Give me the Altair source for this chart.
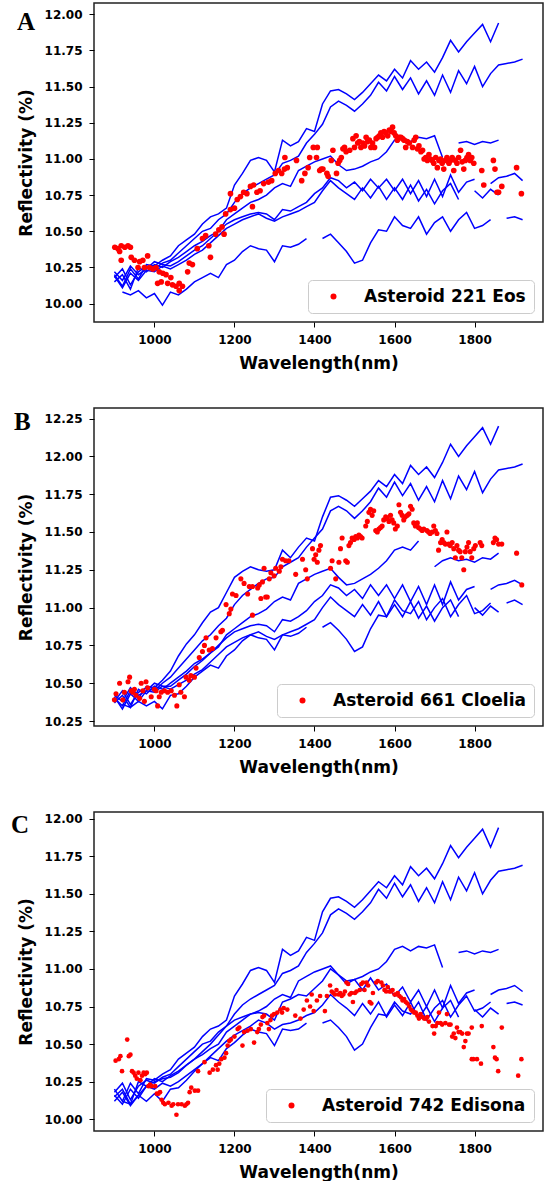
import altair as alt
import pandas as pd

N = None

# Wavelength grid (nm) of the reference spectra
WAVELENGTH = [900, 920, 940, 960, 980,
              1000, 1020, 1040, 1060, 1080,
              1100, 1120, 1140, 1160, 1180,
              1200, 1220, 1240, 1260, 1280,
              1300, 1320, 1340, 1360, 1380,
              1400, 1420, 1440, 1460, 1480,
              1500, 1520, 1540, 1560, 1580,
              1600, 1620, 1640, 1660, 1680,
              1700, 1720, 1740, 1760, 1780,
              1800, 1820, 1840, 1860, 1880,
              1900, 1920]

X_TICKS = [1000, 1200, 1400, 1600, 1800]

# ---------------- Panel A : reference spectra ----------------
A_L1 = [10.20, 10.12, 10.24, 10.17, 10.27,
        10.26, 10.30, 10.33, 10.40, 10.44,
        10.48, 10.55, 10.60, 10.62, 10.66,
        10.82, 10.90, 10.99, 11.01, 10.99,
        10.91, 11.13, 11.09, 11.12, 11.21,
        11.19, 11.38, 11.47, 11.48, 11.45,
        11.41, 11.46, 11.52, 11.58, 11.54,
        11.62, 11.56, 11.68, 11.62, 11.67,
        11.60, 11.70, 11.82, 11.74, 11.81,
        11.87, 11.93, 11.81, 11.94, N,
        N, N]
A_L2 = [10.18, 10.24, 10.13, 10.22, 10.26,
        10.24, 10.28, 10.30, 10.35, 10.40,
        10.45, 10.50, 10.52, 10.58, 10.62,
        10.70, 10.76, 10.80, 10.83, 10.86,
        10.89, 10.97, 10.99, 11.02, 11.11,
        11.17, 11.24, 11.36, 11.40, 11.37,
        11.33, 11.38, 11.44, 11.53, 11.47,
        11.57, 11.48, 11.56, 11.45, 11.54,
        11.44, 11.58, 11.46, 11.61, 11.52,
        11.64, 11.50, 11.59, 11.65, 11.66,
        11.67, 11.69]
A_L3 = [10.15, 10.20, 10.10, 10.25, 10.22,
        10.27, 10.25, 10.29, 10.32, 10.36,
        10.40, 10.43, 10.47, 10.50, 10.58,
        10.62, 10.66, 10.70, 10.72, 10.75,
        10.80, 10.83, 10.81, 10.92, 10.95,
        10.98, 11.00, 11.02, 10.96, 10.92,
        10.93, 10.95, 10.98, 11.00, 11.05,
        11.13, 11.15, 11.12, 11.15, 11.14,
        11.16, 11.01, N, 11.11, 11.12,
        11.10, 11.12, 11.11, 11.13, N,
        N, N]
A_L4 = [10.22, 10.16, 10.26, 10.20, 10.24,
        10.29, 10.27, 10.26, 10.29, 10.33,
        10.37, 10.40, 10.45, 10.50, 10.55,
        10.58, 10.60, 10.62, 10.63, 10.62,
        10.58, 10.65, 10.64, 10.67, 10.70,
        10.76, 10.80, 10.87, 10.85, 10.80,
        10.84, 10.78, 10.86, 10.80, 10.86,
        10.78, 10.86, 10.76, 10.85, 10.74,
        10.86, 10.74, 10.89, 10.77, 10.84,
        10.86, N, 10.83, 10.87, 10.88,
        10.90, 10.85]
A_L5 = [10.19, 10.11, 10.21, 10.16, 10.23,
        10.22, 10.26, 10.24, 10.27, 10.30,
        10.34, 10.37, 10.42, 10.47, 10.52,
        10.55, 10.58, 10.60, 10.62, 10.59,
        10.57, 10.60, 10.62, 10.64, 10.67,
        10.70, 10.78, 10.85, 10.80, 10.76,
        10.72, 10.80, 10.73, 10.81, 10.72,
        10.80, 10.72, 10.82, 10.71, 10.79,
        10.69, 10.78, 10.83, 10.72, N,
        10.78, 10.73, 10.79, 10.75, N,
        N, N]
A_L6 = [N, 10.08, 10.06, 10.09, 10.04,
        10.07, 9.99, 10.08, 10.06, 10.10,
        10.15, 10.18, 10.21, 10.18, 10.27,
        10.30, 10.36, 10.40, 10.38, 10.37,
        10.29, 10.40, 10.39, 10.41, 10.45,
        N, 10.45, 10.48, 10.42, 10.36,
        10.28, 10.30, 10.42, 10.51, 10.50,
        10.60, 10.54, 10.52, 10.60, 10.48,
        10.56, 10.60, 10.50, 10.58, 10.63,
        10.52, 10.54, 10.58, N, 10.59,
        10.60, 10.58]

# ---------------- Panel B : reference spectra ----------------
B_L1 = [10.40, 10.35, 10.45, 10.40, 10.48,
        10.47, 10.52, 10.58, 10.68, 10.76,
        10.82, 10.90, 10.97, 11.00, 11.10,
        11.20, 11.24, 11.27, 11.25, 11.24,
        11.25, 11.38, 11.33, 11.40, 11.46,
        11.44, 11.60, 11.73, 11.74, 11.71,
        11.67, 11.72, 11.77, 11.84, 11.80,
        11.88, 11.82, 11.94, 11.88, 11.93,
        11.86, 11.96, 12.08, 12.00, 12.07,
        12.13, 12.19, 12.08, 12.20, N,
        N, N]
B_L2 = [10.38, 10.45, 10.36, 10.44, 10.47,
        10.45, 10.50, 10.54, 10.60, 10.66,
        10.72, 10.78, 10.82, 10.88, 10.93,
        11.02, 11.08, 11.12, 11.16, 11.19,
        11.20, 11.27, 11.30, 11.33, 11.40,
        11.46, 11.52, 11.64, 11.67, 11.64,
        11.59, 11.64, 11.70, 11.79, 11.73,
        11.83, 11.74, 11.82, 11.71, 11.80,
        11.70, 11.84, 11.72, 11.87, 11.78,
        11.90, 11.76, 11.85, 11.91, 11.92,
        11.93, 11.95]
B_L3 = [10.37, 10.42, 10.34, 10.46, 10.43,
        10.48, 10.46, 10.50, 10.54, 10.58,
        10.63, 10.66, 10.70, 10.74, 10.82,
        10.86, 10.90, 10.94, 10.96, 10.99,
        11.04, 11.07, 11.05, 11.16, 11.19,
        11.22, 11.24, 11.26, 11.20, 11.15,
        11.16, 11.19, 11.22, 11.26, 11.31,
        11.38, 11.40, 11.38, 11.44, N,
        11.27, 11.31, 11.33, 11.31, 11.32,
        11.30, 11.33, 11.32, 11.36, N,
        N, N]
B_L4 = [10.42, 10.38, 10.47, 10.42, 10.45,
        10.50, 10.48, 10.48, 10.52, 10.56,
        10.61, 10.65, 10.70, 10.75, 10.80,
        10.84, 10.86, 10.88, 10.89, 10.88,
        10.84, 10.92, 10.91, 10.94, 10.98,
        11.04, 11.08, 11.15, 11.13, 11.08,
        11.12, 11.06, 11.15, 11.08, 11.15,
        11.06, 11.15, 11.04, 11.14, 11.02,
        11.15, 11.02, 11.17, 11.05, 11.12,
        11.14, N, 11.12, 11.15, 11.16,
        11.18, 11.15]
B_L5 = [10.41, 10.33, 10.43, 10.38, 10.45,
        10.44, 10.48, 10.46, 10.49, 10.52,
        10.56, 10.59, 10.64, 10.69, 10.74,
        10.77, 10.80, 10.82, 10.84, 10.81,
        10.79, 10.82, 10.84, 10.86, 10.89,
        10.92, 11.00, 11.07, 11.02, 10.98,
        10.94, 11.02, 10.95, 11.04, 10.94,
        11.02, 10.94, 11.04, 10.93, 11.01,
        10.91, 11.00, 11.05, 10.94, N,
        11.00, 10.95, 11.01, 10.97, N,
        N, N]
B_L6 = [N, 10.36, 10.34, 10.38, 10.35,
        10.38, 10.33, 10.42, 10.43, 10.48,
        10.54, 10.58, 10.62, 10.60, 10.68,
        10.72, 10.78, 10.82, 10.80, 10.79,
        10.72, 10.82, 10.81, 10.83, 10.87,
        N, 10.87, 10.90, 10.85, 10.79,
        10.71, 10.74, 10.86, 10.95, 10.94,
        11.05, 10.98, 10.96, 11.04, 10.92,
        11.00, 11.06, 10.94, 11.02, 11.08,
        10.96, 10.98, 11.03, N, 11.03,
        11.05, 11.02]

# ---------------- Panel C : reference spectra ----------------
C_L1 = A_L1
C_L2 = A_L2
C_L3 = A_L3
C_L4 = [10.16, 10.10, 10.20, 10.14, 10.22,
        10.25, 10.27, 10.28, 10.31, 10.36,
        10.40, 10.45, 10.50, 10.56, 10.62,
        10.66, 10.68, 10.70, 10.71, 10.70,
        10.66, 10.78, 10.80, 10.83, 10.82,
        10.87, 10.92, 11.00, 10.96, 10.90,
        10.93, 10.86, 10.94, 10.86, 10.90,
        10.82, 10.88, 10.78, 10.86, 10.75,
        10.86, 10.74, 10.89, 10.77, 10.84,
        10.86, N, 10.83, 10.86, 10.87,
        10.89, 10.85]
C_L5 = [10.12, 10.18, 10.09, 10.16, 10.22,
        10.20, 10.24, 10.22, 10.25, 10.29,
        10.33, 10.37, 10.42, 10.47, 10.52,
        10.56, 10.59, 10.62, 10.66, 10.64,
        10.60, 10.63, 10.64, 10.66, 10.69,
        10.71, 10.76, 10.83, 10.78, 10.74,
        10.69, 10.77, 10.70, 10.78, 10.68,
        10.76, 10.69, 10.78, 10.67, 10.75,
        10.65, 10.74, 10.79, 10.68, N,
        10.73, 10.68, 10.74, 10.70, N,
        N, N]
C_L6 = [N, 10.12, 10.10, 10.16, 10.12,
        10.17, 10.12, 10.20, 10.21, 10.26,
        10.32, 10.37, 10.41, 10.39, 10.47,
        10.51, 10.56, 10.60, 10.58, 10.57,
        10.49, 10.60, 10.59, 10.60, 10.64,
        N, 10.64, 10.66, 10.61, 10.55,
        10.46, 10.50, 10.61, 10.70, 10.69,
        10.78, 10.72, 10.70, 10.78, 10.66,
        10.74, 10.79, 10.68, 10.76, 10.82,
        10.72, 10.74, 10.78, N, 10.77,
        10.78, 10.76]

# ---------------- Asteroid spectra (red points) ----------------
EOS_WL = [901, 909, 917, 926, 934, 940, 913, 917, 942, 950, 963, 971, 983, 959, 975,
          988, 996, 1004, 1012, 1021, 1029, 1041, 1008, 1017, 1033, 1045, 1054, 1062, 1070, 1062,
          1083, 1087, 1095, 1107, 1120, 1128, 1136, 1140, 1153, 1161, 1169, 1174, 1178, 1190, 1200,
          1190, 1207, 1215, 1223, 1231, 1240, 1248, 1245, 1256, 1264, 1273, 1285, 1293, 1302, 1310,
          1318, 1325, 1332, 1326, 1355, 1368, 1376, 1384, 1388, 1397, 1407, 1405, 1413, 1417, 1421,
          1431, 1434, 1442, 1446, 1455, 1459, 1463, 1467, 1471, 1475, 1479, 1488, 1496, 1500, 1504,
          1508, 1512, 1516, 1521, 1525, 1529, 1533, 1537, 1541, 1545, 1550, 1554, 1558, 1562, 1566,
          1570, 1574, 1578, 1583, 1587, 1591, 1595, 1599, 1603, 1607, 1612, 1616, 1620, 1624, 1628,
          1632, 1637, 1645, 1649, 1653, 1657, 1661, 1666, 1670, 1674, 1678, 1682, 1686, 1690, 1694,
          1698, 1703, 1707, 1711, 1715, 1719, 1723, 1727, 1731, 1736, 1740, 1744, 1748, 1752, 1756,
          1760, 1765, 1769, 1773, 1777, 1781, 1785, 1789, 1793, 1798, 1818, 1823, 1847, 1851, 1856,
          1860, 1868, 1905, 1917]
EOS_R = [10.39, 10.38, 10.40, 10.39, 10.40, 10.39, 10.36, 10.30, 10.32, 10.30, 10.29, 10.30, 10.33, 10.25, 10.25,
         10.25, 10.24, 10.25, 10.22, 10.21, 10.20, 10.18, 10.14, 10.15, 10.14, 10.13, 10.12, 10.14, 10.12, 10.09,
         10.22, 10.28, 10.27, 10.38, 10.45, 10.47, 10.40, 10.32, 10.48, 10.51, 10.53, 10.48, 10.62, 10.65, 10.66,
         10.76, 10.72, 10.74, 10.77, 10.76, 10.81, 10.82, 10.67, 10.77, 10.78, 10.83, 10.84, 10.85, 10.90, 10.92,
         10.90, 10.93, 10.94, 11.01, 10.99, 10.85, 10.90, 10.94, 11.01, 11.08, 11.08, 11.01, 10.92, 10.93, 10.93,
         10.90, 10.88, 10.99, 11.06, 10.90, 10.97, 10.99, 11.01, 11.07, 11.08, 11.05, 11.06, 11.14, 11.08, 11.16,
         11.11, 11.12, 11.08, 11.11, 11.09, 11.15, 11.12, 11.13, 11.08, 11.11, 11.08, 11.14, 11.15, 11.16, 11.18,
         11.15, 11.19, 11.18, 11.16, 11.20, 11.19, 11.22, 11.18, 11.16, 11.13, 11.15, 11.15, 11.14, 11.13, 11.08,
         11.12, 11.11, 11.08, 11.13, 11.15, 11.07, 11.09, 11.05, 11.06, 11.00, 11.01, 10.99, 11.03, 11.00, 10.99,
         10.97, 11.01, 10.94, 10.99, 11.00, 10.97, 10.93, 10.99, 11.01, 10.97, 10.99, 11.01, 10.92, 10.99, 10.97,
         11.01, 11.06, 10.98, 10.93, 10.99, 11.01, 11.03, 10.99, 11.01, 10.97, 10.92, 10.82, 10.99, 10.93, 10.77,
         10.77, 10.81, 10.94, 10.76]

CLOELIA_WL = [900, 904, 913, 921, 925, 934, 938, 942, 946, 950, 954, 963, 967, 971, 975,
              979, 983, 992, 1000, 1004, 1008, 1012, 1017, 1025, 1033, 1042, 1050, 1056, 1062, 1066,
              1075, 1079, 1087, 1091, 1100, 1104, 1112, 1120, 1125, 1129, 1137, 1145, 1154, 1166, 1170,
              1179, 1187, 1191, 1195, 1204, 1216, 1224, 1233, 1237, 1245, 1258, 1262, 1266, 1270, 1278,
              1282, 1245, 1274, 1287, 1291, 1299, 1303, 1312, 1316, 1320, 1328, 1336, 1353, 1370, 1378,
              1382, 1395, 1399, 1403, 1407, 1411, 1415, 1440, 1444, 1453, 1461, 1465, 1469, 1478, 1482,
              1486, 1490, 1494, 1499, 1503, 1507, 1511, 1515, 1519, 1528, 1532, 1536, 1540, 1544, 1548,
              1553, 1557, 1561, 1565, 1569, 1573, 1578, 1582, 1586, 1590, 1594, 1598, 1602, 1607, 1611,
              1615, 1619, 1623, 1627, 1632, 1636, 1640, 1644, 1648, 1652, 1657, 1660, 1665, 1669, 1673,
              1681, 1685, 1689, 1694, 1698, 1702, 1706, 1710, 1715, 1719, 1723, 1727, 1731, 1735, 1739,
              1744, 1748, 1752, 1756, 1760, 1764, 1768, 1773, 1777, 1781, 1785, 1789, 1793, 1798, 1802,
              1814, 1818, 1847, 1851, 1855, 1860, 1868, 1905, 1918]
CLOELIA_R = [10.39, 10.43, 10.50, 10.39, 10.44, 10.51, 10.54, 10.45, 10.44, 10.46, 10.42, 10.40, 10.50, 10.45, 10.38,
             10.51, 10.47, 10.41, 10.46, 10.45, 10.35, 10.41, 10.44, 10.45, 10.44, 10.45, 10.42, 10.35, 10.49, 10.44,
             10.41, 10.54, 10.52, 10.55, 10.54, 10.60, 10.67, 10.71, 10.75, 10.80, 10.72, 10.73, 10.80, 10.84, 10.85,
             11.02, 10.96, 10.99, 11.09, 11.08, 11.19, 11.16, 11.09, 11.14, 11.14, 11.13, 11.15, 11.06, 11.17, 11.07,
             11.07, 10.95, 11.26, 11.19, 11.23, 11.21, 11.26, 11.24, 11.27, 11.32, 11.31, 11.31, 11.22, 11.32, 11.25,
             11.19, 11.39, 11.32, 11.35, 11.30, 11.38, 11.41, 11.26, 11.31, 11.19, 11.30, 11.39, 11.46, 11.31, 11.30,
             11.41, 11.43, 11.46, 11.45, 11.47, 11.46, 11.48, 11.47, 11.46, 11.54, 11.57, 11.63, 11.65, 11.61, 11.64,
             11.51, 11.50, 11.52, 11.53, 11.54, 11.58, 11.60, 11.59, 11.57, 11.61, 11.58, 11.56, 11.52, 11.54, 11.68,
             11.63, 11.61, 11.58, 11.60, 11.61, 11.62, 11.67, 11.65, 11.56, 11.54, 11.56, 11.53, 11.52, 11.51, 11.52,
             11.51, 11.50, 11.49, 11.50, 11.54, 11.51, 11.49, 11.38, 11.43, 11.45, 11.43, 11.42, 11.50, 11.42, 11.41,
             11.43, 11.39, 11.33, 11.41, 11.38, 11.37, 11.33, 11.25, 11.37, 11.40, 11.43, 11.37, 11.33, 11.39, 11.41,
             11.43, 11.41, 11.43, 11.46, 11.45, 11.42, 11.42, 11.36, 11.15]

EDISONA_WL = [903, 911, 915, 919, 932, 936, 940, 944, 948, 952, 956, 960, 965, 969, 973,
              977, 981, 985, 989, 993, 1002, 1006, 1010, 1014, 1018, 1022, 1026, 1035, 1043, 1047,
              1055, 1059, 1068, 1076, 1080, 1084, 1088, 1092, 1101, 1109, 1109, 1125, 1138, 1146, 1154,
              1158, 1162, 1167, 1175, 1179, 1183, 1187, 1191, 1200, 1208, 1212, 1220, 1224, 1233, 1241,
              1249, 1257, 1261, 1266, 1270, 1274, 1282, 1286, 1290, 1294, 1299, 1307, 1315, 1319, 1323,
              1332, 1352, 1365, 1373, 1381, 1389, 1393, 1398, 1406, 1414, 1426, 1431, 1439, 1443, 1447,
              1451, 1455, 1460, 1464, 1468, 1472, 1476, 1480, 1484, 1488, 1492, 1496, 1501, 1505, 1513,
              1517, 1521, 1525, 1530, 1534, 1538, 1542, 1546, 1554, 1558, 1567, 1571, 1575, 1579, 1583,
              1587, 1591, 1595, 1600, 1604, 1608, 1612, 1616, 1620, 1624, 1628, 1632, 1637, 1641, 1645,
              1649, 1653, 1657, 1661, 1665, 1670, 1674, 1678, 1682, 1686, 1695, 1699, 1703, 1707, 1711,
              1715, 1719, 1727, 1731, 1736, 1740, 1744, 1748, 1752, 1756, 1760, 1764, 1769, 1773, 1777,
              1781, 1785, 1793, 1793, 1797, 1806, 1816, 1818, 1847, 1851, 1855, 1859, 1868, 1909, 1917]
EDISONA_R = [10.39, 10.40, 10.42, 10.32, 10.53, 10.42, 10.43, 10.32, 10.31, 10.29, 10.27, 10.31, 10.26, 10.29, 10.31,
             10.30, 10.31, 10.22, 10.23, 10.22, 10.22, 10.17, 10.17, 10.18, 10.13, 10.11, 10.10, 10.11, 10.09, 10.10,
             10.03, 10.10, 10.10, 10.09, 10.10, 10.11, 10.18, 10.21, 10.19, 10.19, 10.32, 10.38, 10.31, 10.33, 10.36,
             10.33, 10.37, 10.40, 10.41, 10.44, 10.49, 10.52, 10.53, 10.55, 10.60, 10.61, 10.49, 10.58, 10.59, 10.60,
             10.51, 10.58, 10.60, 10.63, 10.68, 10.69, 10.64, 10.60, 10.66, 10.69, 10.70, 10.71, 10.73, 10.71, 10.74,
             10.73, 10.69, 10.67, 10.73, 10.79, 10.75, 10.83, 10.72, 10.79, 10.82, 10.72, 10.82, 10.89, 10.85, 10.84,
             10.83, 10.86, 10.83, 10.84, 10.82, 10.83, 10.85, 10.91, 10.90, 10.83, 10.84, 10.78, 10.84, 10.85, 10.86,
             10.90, 10.91, 10.86, 10.91, 10.89, 10.78, 10.77, 10.84, 10.91, 10.92, 10.91, 10.89, 10.86, 10.85, 10.88,
             10.85, 10.85, 10.86, 10.83, 10.83, 10.84, 10.82, 10.81, 10.79, 10.80, 10.78, 10.77, 10.75, 10.73, 10.72,
             10.71, 10.71, 10.69, 10.67, 10.70, 10.68, 10.67, 10.67, 10.68, 10.65, 10.62, 10.57, 10.62, 10.64, 10.71,
             10.64, 10.63, 10.64, 10.70, 10.63, 10.63, 10.55, 10.57, 10.54, 10.61, 10.58, 10.58, 10.57, 10.48, 10.52,
             10.57, 10.57, 10.61, 10.40, 10.40, 10.40, 10.37, 10.62, 10.48, 10.41, 10.40, 10.32, 10.61, 10.29, 10.40]


def line_frame(lines):
    """Long table of spectra; a None in a series starts a new drawn segment."""
    rows = []
    for name, values in lines.items():
        seg = 0
        for wl, v in zip(WAVELENGTH, values):
            if v is None:
                seg += 1
                continue
            rows.append({"wl": wl, "refl": v, "seg": f"{name}_{seg}"})
    return pd.DataFrame(rows)


def panel(lines, pts_wl, pts_r, label, letter, ydomain, yticks, height, letter_xy, dot_size):
    ldf = line_frame(lines)
    pdf = pd.DataFrame({"wl": pts_wl, "refl": pts_r, "series": label})
    x_axis = alt.Axis(values=X_TICKS, format="d", title="Wavelength(nm)",
                      titleY=46, titleBaseline="alphabetic", labelOverlap=False)
    y_axis = alt.Axis(values=yticks, format=".2f", title="Reflectivity (%)",
                      titleX=-68, titleY=height / 2, titleAlign="center",
                      titleBaseline="middle", labelOverlap=False, tickCount=len(yticks))
    x_scale = alt.Scale(domain=[849, 1971], nice=False, zero=False)
    y_scale = alt.Scale(domain=ydomain, nice=False, zero=False)
    x = alt.X("wl:Q", scale=x_scale, axis=x_axis)
    y = alt.Y("refl:Q", scale=y_scale, axis=y_axis)
    lines_layer = alt.Chart(ldf).mark_line(color="#0000ff", strokeWidth=1.5).encode(
        x=x, y=y, detail="seg:N", order="wl:Q")
    pts_layer = alt.Chart(pdf).mark_circle(size=dot_size, opacity=1).encode(
        x=x, y=y,
        color=alt.Color("series:N",
                        scale=alt.Scale(domain=[label], range=["#ff0000"]),
                        legend=alt.Legend(title=None, orient="bottom-right", offset=9,
                                          padding=8, strokeColor="#cccccc", cornerRadius=4,
                                          fillColor="white", labelFont="DejaVu Sans",
                                          labelFontSize=17, labelFontWeight="bold",
                                          labelColor="black", labelLimit=400,
                                          symbolType="circle", symbolSize=36,
                                          symbolStrokeWidth=0, symbolOffset=9,
                                          labelOffset=22)))
    letter_layer = alt.Chart(pd.DataFrame({"t": [letter]})).mark_text(
        font="Liberation Serif", fontWeight="bold", fontSize=25, align="left",
        baseline="alphabetic", color="black").encode(
        text="t:N", x=alt.value(letter_xy[0]), y=alt.value(letter_xy[1]))
    return alt.layer(lines_layer, pts_layer, letter_layer).properties(width=449, height=height)


A_TICKS = [10.0, 10.25, 10.5, 10.75, 11.0, 11.25, 11.5, 11.75, 12.0]
B_TICKS = [10.25, 10.5, 10.75, 11.0, 11.25, 11.5, 11.75, 12.0, 12.25]

pa = panel({"a1": A_L1, "a2": A_L2, "a3": A_L3, "a4": A_L4, "a5": A_L5, "a6": A_L6},
           EOS_WL, EOS_R, "Asteroid 221 Eos", "A", [9.873, 12.078], A_TICKS, 319, (-77, 27), 32)
pb = panel({"b1": B_L1, "b2": B_L2, "b3": B_L3, "b4": B_L4, "b5": B_L5, "b6": B_L6},
           CLOELIA_WL, CLOELIA_R, "Asteroid 661 Cloelia", "B", [10.217, 12.32], B_TICKS, 318, (-80, 22), 26)
pc = panel({"c1": C_L1, "c2": C_L2, "c3": C_L3, "c4": C_L4, "c5": C_L5, "c6": C_L6},
           EDISONA_WL, EDISONA_R, "Asteroid 742 Edisona", "C", [9.922, 12.044], A_TICKS, 319, (-83, 21), 22)

chart = alt.vconcat(pa, pb, pc, spacing=86, bounds="flush").resolve_scale(
    x="independent", y="independent", color="independent"
).resolve_legend(color="independent").configure_view(
    stroke="#222222", strokeWidth=1.5
).configure_axis(
    labelFont="DejaVu Sans", labelFontSize=12, labelFontWeight="bold", labelColor="black",
    labelPadding=7, tickColor="black", tickSize=5, tickWidth=1, grid=False, domain=False,
    labelOverlap=False, labelSeparation=0,
    titleFont="DejaVu Sans", titleFontSize=17, titleFontWeight="bold", titleColor="black"
).properties(padding={"left": 10, "top": 2, "right": 0, "bottom": 0}, background="white")

chart.save("out.html", embed_options={"renderer": "svg", "actions": False})
